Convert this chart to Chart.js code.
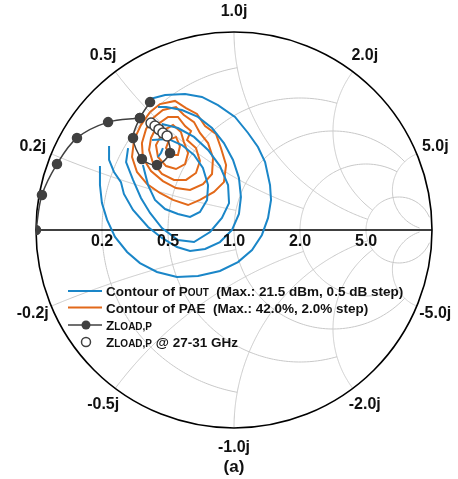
<!DOCTYPE html>
<html>
<head>
<meta charset="utf-8">
<script src="https://cdn.jsdelivr.net/npm/chart.js@4.4.0/dist/chart.umd.min.js"></script>
<style>
  html, body { margin: 0; padding: 0; background: #fff; }
  canvas { display: block; }
</style>
</head>
<body>
<canvas id="smith" width="458" height="479"></canvas>
<script>
// Smith chart grid: resistance / reactance values and where each arc stops
const gridValues = [0.2, 0.5, 1.0, 2.0, 5.0];
const gridEnds = [1, 2, 5, 5, 30];
const rLabels = ['0.2', '0.5', '1.0', '2.0', '5.0'];
const xLabels = ['0.2j', '0.5j', '1.0j', '2.0j', '5.0j'];

// Reflection coefficient points [re, im]
const zloadPath = [[-1.000, 0.000], [-0.970, 0.177], [-0.894, 0.333], [-0.793, 0.465], [-0.636, 0.545], [-0.475, 0.566]];
const zloadBranch = [[-0.424, 0.646], [-0.475, 0.566], [-0.510, 0.465], [-0.465, 0.359], [-0.389, 0.328], [-0.323, 0.389], [-0.338, 0.475]];
const zloadFreq = [[-0.419, 0.540], [-0.399, 0.525], [-0.379, 0.508], [-0.359, 0.490], [-0.338, 0.475]];

// Pout contours, outer to inner
const pout1 = [[-0.424, 0.662], [-0.348, 0.682], [-0.247, 0.687], [-0.162, 0.672], [-0.081, 0.631], [0.005, 0.571], [0.071, 0.490], [0.121, 0.419], [0.157, 0.343], [0.182, 0.227], [0.187, 0.152], [0.172, 0.061], [0.141, -0.025], [0.091, -0.101], [0.020, -0.162], [-0.071, -0.207], [-0.182, -0.232], [-0.288, -0.237], [-0.389, -0.212], [-0.475, -0.167], [-0.540, -0.111], [-0.601, -0.035], [-0.641, 0.051], [-0.667, 0.136], [-0.677, 0.227], [-0.677, 0.323]];
const pout2 = [[-0.384, 0.621], [-0.343, 0.621], [-0.263, 0.606], [-0.182, 0.571], [-0.111, 0.515], [-0.051, 0.439], [-0.005, 0.354], [0.025, 0.263], [0.035, 0.167], [0.025, 0.081], [-0.010, 0.000], [-0.071, -0.061], [-0.146, -0.096], [-0.222, -0.106], [-0.288, -0.086], [-0.364, -0.040], [-0.434, 0.015], [-0.510, 0.101], [-0.556, 0.182], [-0.571, 0.242], [-0.606, 0.293], [-0.631, 0.354], [-0.631, 0.424]];
const pout3 = [[-0.364, 0.535], [-0.283, 0.515], [-0.202, 0.470], [-0.131, 0.404], [-0.071, 0.323], [-0.030, 0.227], [-0.025, 0.136], [-0.061, 0.061], [-0.121, -0.010], [-0.202, -0.061], [-0.283, -0.051], [-0.364, 0.010], [-0.424, 0.086], [-0.470, 0.162], [-0.510, 0.253], [-0.545, 0.343], [-0.535, 0.414]];
const pout4 = [[-0.414, 0.455], [-0.333, 0.460], [-0.263, 0.429], [-0.202, 0.379], [-0.157, 0.313], [-0.131, 0.227], [-0.136, 0.152], [-0.172, 0.091], [-0.222, 0.066], [-0.283, 0.081], [-0.348, 0.106], [-0.399, 0.152], [-0.434, 0.227], [-0.460, 0.328]];
const pout5 = [[-0.359, 0.414], [-0.369, 0.389], [-0.384, 0.369]];

// PAE contours, outer to inner
const pae1 = [[-0.424, 0.596], [-0.374, 0.636], [-0.298, 0.652], [-0.242, 0.616], [-0.187, 0.586], [-0.146, 0.525], [-0.091, 0.485], [-0.066, 0.414], [-0.040, 0.328], [-0.051, 0.242], [-0.101, 0.192], [-0.172, 0.152], [-0.232, 0.126], [-0.308, 0.152], [-0.374, 0.187], [-0.439, 0.232], [-0.490, 0.293], [-0.515, 0.369], [-0.505, 0.455], [-0.470, 0.530], [-0.424, 0.596]];
const pae2 = [[-0.409, 0.566], [-0.359, 0.606], [-0.293, 0.621], [-0.253, 0.581], [-0.202, 0.545], [-0.172, 0.490], [-0.131, 0.439], [-0.106, 0.364], [-0.111, 0.283], [-0.157, 0.232], [-0.222, 0.202], [-0.293, 0.212], [-0.359, 0.247], [-0.419, 0.298], [-0.460, 0.364], [-0.465, 0.439], [-0.444, 0.510], [-0.409, 0.566]];
const pae3 = [[-0.384, 0.535], [-0.333, 0.571], [-0.283, 0.571], [-0.247, 0.525], [-0.217, 0.500], [-0.237, 0.455], [-0.192, 0.414], [-0.172, 0.348], [-0.192, 0.288], [-0.242, 0.253], [-0.303, 0.253], [-0.364, 0.283], [-0.409, 0.338], [-0.429, 0.404], [-0.419, 0.465], [-0.384, 0.535]];
const pae4 = [[-0.354, 0.505], [-0.308, 0.530], [-0.268, 0.495], [-0.253, 0.444], [-0.232, 0.389], [-0.247, 0.333], [-0.293, 0.308], [-0.343, 0.323], [-0.384, 0.369], [-0.394, 0.429], [-0.354, 0.505]];
const pae5 = [[-0.328, 0.455], [-0.293, 0.470], [-0.273, 0.424], [-0.283, 0.379], [-0.323, 0.379], [-0.343, 0.414], [-0.328, 0.455]];

const BLUE = '#1a86c8';
const ORANGE = '#e2691a';
const DARK = '#404040';
const GRID = '#c8c8c8';
const FONT = '"Liberation Sans", Arial, sans-serif';

const pts = arr => arr.map(p => ({ x: p[0], y: p[1] }));

function contour(arr, color) {
    return {
        data: pts(arr), showLine: true, borderColor: color, borderWidth: 2,
        pointRadius: 0, tension: 0, fill: false, order: 3
    };
}

// z = r + jx  ->  gamma
function gamma(r, x) {
    const d = (r + 1) * (r + 1) + x * x;
    return [(r * r + x * x - 1) / d, 2 * x / d];
}

const smithGrid = {
    id: 'smithGrid',
    beforeDatasetsDraw(chart) {
        const { ctx, scales: { x: xs, y: ys } } = chart;
        const P = g => [xs.getPixelForValue(g[0]), ys.getPixelForValue(g[1])];
        const N = 240;
        ctx.save();
        ctx.strokeStyle = GRID;
        ctx.lineWidth = 1;
        gridValues.forEach((v, i) => {
            const end = Math.atan(gridEnds[i]);
            // constant resistance circle, clipped at +-end reactance
            ctx.beginPath();
            for (let k = 0; k <= N; k++) {
                const t = -end + 2 * end * k / N;
                const p = P(gamma(v, Math.tan(t)));
                k ? ctx.lineTo(p[0], p[1]) : ctx.moveTo(p[0], p[1]);
            }
            ctx.stroke();
            // constant reactance arcs, from the rim to resistance = end
            [1, -1].forEach(s => {
                ctx.beginPath();
                for (let k = 0; k <= N; k++) {
                    const t = end * k / N;
                    const p = P(gamma(Math.tan(t), s * v));
                    k ? ctx.lineTo(p[0], p[1]) : ctx.moveTo(p[0], p[1]);
                }
                ctx.stroke();
            });
        });
        // rim and real axis
        const c = P([0, 0]);
        const R = xs.getPixelForValue(1) - c[0];
        ctx.strokeStyle = '#000';
        ctx.lineWidth = 1.6;
        ctx.beginPath();
        ctx.arc(c[0], c[1], R, 0, Math.PI * 2);
        ctx.stroke();
        ctx.beginPath();
        ctx.moveTo(c[0] - R, c[1]);
        ctx.lineTo(c[0] + R, c[1]);
        ctx.stroke();
        ctx.restore();
    },
    afterDraw(chart) {
        const { ctx, scales: { x: xs, y: ys } } = chart;
        const P = g => [xs.getPixelForValue(g[0]), ys.getPixelForValue(g[1])];
        const c = P([0, 0]);
        ctx.save();
        ctx.fillStyle = '#111';
        ctx.font = 'bold 16px ' + FONT;
        ctx.textAlign = 'center';
        ctx.textBaseline = 'middle';
        gridValues.forEach((v, i) => {
            const p = P(gamma(v, 0));
            ctx.fillText(rLabels[i], p[0], c[1] + 12);
            [1, -1].forEach(s => {
                const q = P(gamma(0, s * v));
                const dx = q[0] - c[0], dy = q[1] - c[1];
                const L = Math.hypot(dx, dy);
                const off = 20;
                ctx.fillText((s < 0 ? '-' : '') + xLabels[i], q[0] + dx / L * off, q[1] + dy / L * off);
            });
        });
        ctx.font = 'bold 17px ' + FONT;
        ctx.fillText('(a)', 234, 467);

        // legend
        const rows = [291, 307.5, 325, 342];
        const big = 'bold 13.5px ' + FONT, small = 'bold 10px ' + FONT;
        const text = (parts, x, y) => {
            ctx.textAlign = 'left';
            ctx.textBaseline = 'alphabetic';
            parts.forEach(([t, f]) => {
                ctx.font = f;
                ctx.fillText(t, x, y + 5);
                x += ctx.measureText(t).width;
            });
        };
        ctx.lineWidth = 2;
        ctx.strokeStyle = BLUE;
        ctx.beginPath(); ctx.moveTo(68, rows[0]); ctx.lineTo(102, rows[0]); ctx.stroke();
        ctx.strokeStyle = ORANGE;
        ctx.beginPath(); ctx.moveTo(68, rows[1]); ctx.lineTo(102, rows[1]); ctx.stroke();
        ctx.strokeStyle = DARK;
        ctx.lineWidth = 1.5;
        ctx.beginPath(); ctx.moveTo(68, rows[2]); ctx.lineTo(102, rows[2]); ctx.stroke();
        ctx.fillStyle = DARK;
        ctx.beginPath(); ctx.arc(86, rows[2], 4.5, 0, Math.PI * 2); ctx.fill();
        ctx.fillStyle = '#fff';
        ctx.beginPath(); ctx.arc(86, rows[3], 4.5, 0, Math.PI * 2); ctx.fill(); ctx.stroke();
        ctx.fillStyle = '#111';
        text([['Contour of P', big], ['OUT', small], ['  (Max.: 21.5 dBm, 0.5 dB step)', big]], 106, rows[0]);
        text([['Contour of PAE  (Max.: 42.0%, 2.0% step)', big]], 106, rows[1]);
        text([['Z', big], ['LOAD,P', small]], 106, rows[2]);
        text([['Z', big], ['LOAD,P', small], [' @ 27-31 GHz', big]], 106, rows[3]);
        ctx.restore();
    }
};

const branchRadius = zloadBranch.map((p, i) => i === zloadBranch.length - 1 ? 0 : 4.5);

new Chart(document.getElementById('smith'), {
    type: 'scatter',
    data: {
        datasets: [
            { data: pts(zloadFreq), showLine: false, pointRadius: 5, pointBorderWidth: 1.5,
              pointBackgroundColor: '#fff', pointBorderColor: DARK, order: 0 },
            { data: pts(zloadPath), showLine: true, borderColor: DARK, borderWidth: 1.5, tension: 0.35,
              pointRadius: 4.5, pointBackgroundColor: DARK, pointBorderColor: DARK, order: 1 },
            { data: pts(zloadBranch), showLine: true, borderColor: DARK, borderWidth: 1.5, tension: 0.3,
              pointRadius: branchRadius, pointBackgroundColor: DARK, pointBorderColor: DARK, order: 1 },
            contour(pout1, BLUE), contour(pout2, BLUE), contour(pout3, BLUE), contour(pout4, BLUE), contour(pout5, BLUE),
            contour(pae1, ORANGE), contour(pae2, ORANGE), contour(pae3, ORANGE), contour(pae4, ORANGE), contour(pae5, ORANGE)
        ]
    },
    options: {
        responsive: false,
        animation: false,
        devicePixelRatio: 1,
        layout: { padding: { left: 36, right: 26, top: 32, bottom: 51 } },
        scales: {
            x: { type: 'linear', min: -1, max: 1, display: false },
            y: { type: 'linear', min: -1, max: 1, display: false }
        },
        plugins: { legend: { display: false }, tooltip: { enabled: false } }
    },
    plugins: [smithGrid]
});
</script>
</body>
</html>
